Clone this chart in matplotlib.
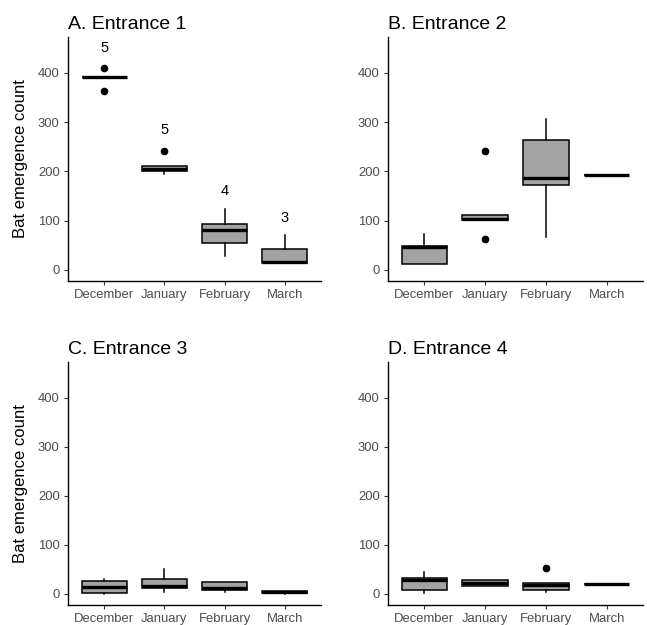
import matplotlib
matplotlib.use("Agg")
import matplotlib.pyplot as plt

plt.rcParams['font.family'] = ['Liberation Sans', 'DejaVu Sans']

months = ["December", "January", "February", "March"]
titles = ["A. Entrance 1", "B. Entrance 2", "C. Entrance 3", "D. Entrance 4"]
ylabel = "Bat emergence count"
yticks = [0, 100, 200, 300, 400]

# Entrance 1
e1_q1 = [391, 201, 54, 15]
e1_med = [391, 204, 80, 16]
e1_q3 = [391, 211, 93, 42]
e1_lo = [391, 194, 28, 15]
e1_hi = [391, 211, 123, 71]
e1_out = [[363, 410], [242], [], []]
e1_n = ["5", "5", "4", "3"]
e1_n_y = [450, 284, 160, 106]

# Entrance 2
e2_q1 = [13, 101, 173, 193]
e2_med = [46, 103, 186, 193]
e2_q3 = [49, 112, 263, 193]
e2_lo = [12, 101, 67, 193]
e2_hi = [72, 112, 306, 193]
e2_out = [[], [62, 242], [], []]

# Entrance 3
e3_q1 = [2, 13, 9, 2]
e3_med = [14, 17, 12, 4]
e3_q3 = [27, 30, 24, 7]
e3_lo = [0, 3, 3, 0]
e3_hi = [31, 50, 24, 7]
e3_out = [[], [], [], []]

# Entrance 4
e4_q1 = [8, 16, 8, 20]
e4_med = [29, 22, 18, 20]
e4_q3 = [32, 28, 22, 20]
e4_lo = [2, 16, 4, 20]
e4_hi = [44, 28, 22, 20]
e4_out = [[], [], [53], []]

data = [
    (e1_q1, e1_med, e1_q3, e1_lo, e1_hi, e1_out),
    (e2_q1, e2_med, e2_q3, e2_lo, e2_hi, e2_out),
    (e3_q1, e3_med, e3_q3, e3_lo, e3_hi, e3_out),
    (e4_q1, e4_med, e4_q3, e4_lo, e4_hi, e4_out),
]

W, H = 647, 625
fig = plt.figure(figsize=(W / 100, H / 100), dpi=100)

def px_rect(l, r, t, b):
    return [l / W, 1 - b / H, (r - l) / W, (b - t) / H]

rects = [
    px_rect(68, 321, 37, 281),
    px_rect(388, 643, 37, 281),
    px_rect(68, 321, 362, 605),
    px_rect(388, 643, 362, 605),
]

grey = "#A3A3A3"
for i, (q1, med, q3, lo, hi, out) in enumerate(data):
    ax = fig.add_axes(rects[i])
    stats = []
    for j in range(4):
        stats.append(dict(q1=q1[j], med=med[j], q3=q3[j], whislo=lo[j],
                          whishi=hi[j], fliers=out[j], label=months[j]))
    ax.bxp(stats, positions=[1, 2, 3, 4], widths=0.75, patch_artist=True,
           showcaps=False,
           boxprops=dict(facecolor=grey, edgecolor="black", linewidth=1.1),
           medianprops=dict(color="black", linewidth=2.4, solid_capstyle="butt"),
           whiskerprops=dict(color="black", linewidth=1.1),
           flierprops=dict(marker="o", markerfacecolor="black",
                           markeredgecolor="black", markersize=4.5))
    ax.set_xlim(0.4, 4.6)
    ax.set_ylim(-22.5, 472.5)
    ax.set_yticks(yticks)
    ax.set_xticks([1, 2, 3, 4])
    ax.set_xticklabels(months)
    for s in ["top", "right"]:
        ax.spines[s].set_visible(False)
    for s in ["left", "bottom"]:
        ax.spines[s].set_linewidth(1.0)
        ax.spines[s].set_color("black")
    ax.tick_params(axis="both", labelsize=9.4, labelcolor="#4D4D4D",
                   color="#333333", length=3, width=0.8, pad=3)
    ax.set_title(titles[i], loc="left", fontsize=14, pad=6, color="black")
    if i in (0, 2):
        ax.set_ylabel(ylabel, fontsize=12, color="black")
        ax.yaxis.set_label_coords(-0.16, 0.5)
    if i == 0:
        for j in range(4):
            ax.text(j + 1, e1_n_y[j], e1_n[j], ha="center", va="center",
                    fontsize=10.5, color="black")

fig.savefig("out.png", dpi=100)
